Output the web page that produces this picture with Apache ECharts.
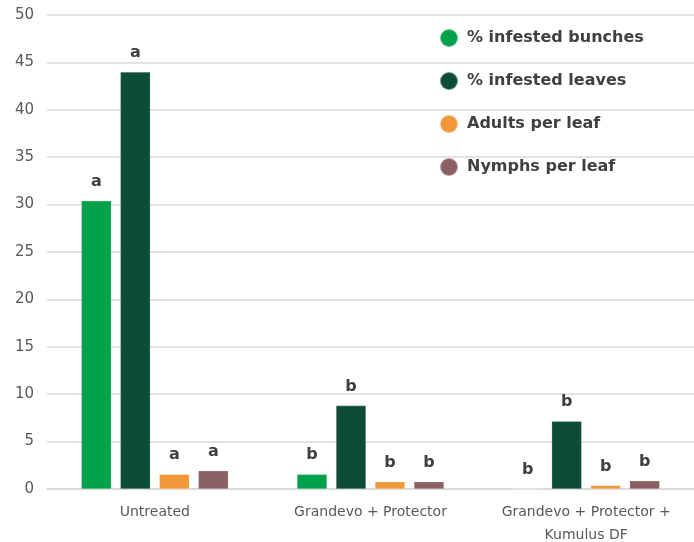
<!DOCTYPE html>
<html><head><meta charset="utf-8">
<script src="https://cdn.jsdelivr.net/npm/echarts@6/dist/echarts.min.js"></script>
<style>html,body{margin:0;padding:0;background:#fff}#c{width:694px;height:542px}</style>
</head><body><div id="c"></div>
<script>
const categories = ['Untreated', 'Grandevo + Protector', 'Grandevo + Protector +\nKumulus DF'];
const seriesNames = ['% infested bunches', '% infested leaves', 'Adults per leaf', 'Nymphs per leaf'];
const bunches = [30.4, 1.55, 0];
const leaves = [44.0, 8.8, 7.15];
const adults = [1.55, 0.77, 0.38];
const nymphs = [1.93, 0.77, 0.87];
const bunchesLetters = ['a', 'b', 'b'];
const leavesLetters = ['a', 'b', 'b'];
const adultsLetters = ['a', 'b', 'b'];
const nymphsLetters = ['a', 'b', 'b'];
const yTicks = {min: 0, max: 50, interval: 5};

const colors = ['#00A14B', '#0D4D38', '#F0983A', '#8A6063'];
const values = [bunches, leaves, adults, nymphs];
const letters = [bunchesLetters, leavesLetters, adultsLetters, nymphsLetters];
const font = '"DejaVu Sans", sans-serif';

const chart = echarts.init(document.getElementById('c'));
chart.setOption({
  animation: false,
  color: colors,
  grid: {left: 47, right: 0, top: 15, bottom: 53, containLabel: false, outerBoundsMode: 'none'},
  legend: {
    orient: 'vertical', left: 434, top: 23, itemGap: 23,
    icon: 'circle', itemWidth: 18, itemHeight: 18,
    textStyle: {color: '#404040', fontSize: 16, fontFamily: font, fontWeight: 'bold', padding: [0, 0, 0, 4]},
    data: seriesNames
  },
  xAxis: {
    type: 'category', data: categories,
    axisLine: {lineStyle: {color: '#d9d9d9', width: 1.5}},
    axisTick: {show: false},
    axisLabel: {color: '#595959', fontSize: 14, fontFamily: font, interval: 0, margin: 12, lineHeight: 23}
  },
  yAxis: {
    type: 'value', min: yTicks.min, max: yTicks.max, interval: yTicks.interval,
    axisLine: {show: false}, axisTick: {show: false},
    splitLine: {lineStyle: {color: '#d9d9d9', width: 1.5}},
    axisLabel: {color: '#595959', fontSize: 15, fontFamily: font, margin: 13}
  },
  series: seriesNames.map((n, i) => ({
    name: n, type: 'bar', barWidth: 30, barGap: '30%',
    itemStyle: {color: colors[i], borderColor: 'rgba(255,255,255,0.4)', borderWidth: 0.5},
    label: {
      show: true, position: 'top', distance: 11,
      formatter: p => letters[i][p.dataIndex],
      color: '#404040', fontSize: 16, fontFamily: font, fontWeight: 'bold'
    },
    data: values[i]
  }))
});
</script></body></html>
